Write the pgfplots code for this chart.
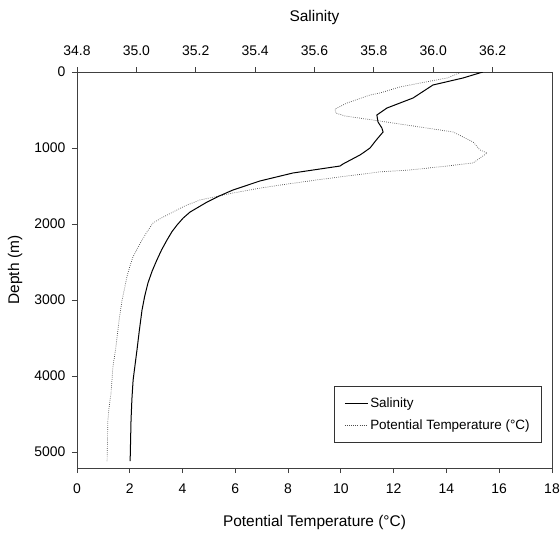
\documentclass[border=0pt]{standalone}
\usepackage{pgfplots}
\pgfplotsset{compat=1.18}
\usepackage{fontspec}
\setmainfont{Liberation Sans}

\pgfplotstableread{
S d
36.167 0
36.100 79
35.999 171
35.932 342
35.844 474
35.810 566
35.814 658
35.827 737
35.831 789
35.808 895
35.787 1000
35.763 1066
35.753 1092
35.696 1210
35.686 1237
35.527 1329
35.416 1434
35.325 1553
35.280 1630
35.238 1711
35.181 1842
35.158 1920
35.137 2013
35.120 2100
35.103 2211
35.085 2340
35.069 2474
35.053 2620
35.039 2776
35.028 2950
35.019 3132
35.010 3400
35.002 3658
34.989 4053
34.985 4300
34.982 4579
34.979 5118
}\salinity

\pgfplotstableread{
T d
14.55 5
14.02 79
13.00 145
12.24 197
11.48 276
11.10 303
10.23 408
9.78 487
9.81 540
10.16 579
11.22 632
13.00 724
14.25 789
15.01 921
15.27 1026
15.54 1066
15.27 1132
15.01 1197
14.02 1237
12.62 1289
11.48 1314
9.30 1410
8.20 1463
7.70 1487
6.93 1528
5.91 1592
4.66 1684
4.10 1760
3.64 1842
3.20 1920
2.88 1987
2.65 2105
2.40 2250
2.12 2434
2.00 2560
1.89 2697
1.80 2850
1.71 3000
1.60 3250
1.52 3487
1.44 3700
1.36 3882
1.29 4224
1.22 4400
1.17 4579
1.14 5118
}\temperature

\begin{document}
\begin{tikzpicture}
\useasboundingbox (-77bp,-68bp) rectangle (483bp,468bp);
\begin{axis}[
  at={(0,0)}, anchor=south west,
  scale only axis, width=475bp, height=396bp,
  xmin=0, xmax=18, ymin=0, ymax=5210, y dir=reverse,
  xtick={0,2,...,18}, ytick={0,1000,...,5000},
  xtick pos=bottom, ytick pos=left, tick align=outside,
  major tick length=5bp,
  axis line style={black!75, line width=0.8bp},
  every tick/.style={black!75, line width=0.8bp},
  /pgf/number format/assume math mode=true,
  /pgf/number format/1000 sep={},
  tick label style={font=\fontsize{14}{16}\selectfont},
  xticklabel style={yshift=-7bp},
  yticklabel style={xshift=-3bp},
  label style={font=\fontsize{15.5}{18}\selectfont},
  xlabel={Potential Temperature (°C)},
  ylabel={Depth (m)},
  xlabel style={at={(axis description cs:0.5,0)}, anchor=center, yshift=-55bp},
  ylabel style={at={(axis description cs:-0.1305,0.5)}, anchor=center},
]
\addplot[black!70, line width=0.7bp, dash pattern=on 0.7bp off 1.4bp] table[x=T, y=d] {\temperature};
\end{axis}
\begin{axis}[
  at={(0,0)}, anchor=south west,
  scale only axis, width=475bp, height=396bp,
  xmin=34.8, xmax=36.4, ymin=0, ymax=5210, y dir=reverse,
  axis line style={draw=none},
  xtick={34.8,35,35.2,35.4,35.6,35.8,36,36.2},
  ytick=\empty,
  xtick pos=top, xticklabel pos=top, tick align=outside,
  major tick length=5bp,
  every tick/.style={black!75, line width=0.8bp},
  /pgf/number format/assume math mode=true,
  xticklabel style={/pgf/number format/.cd, fixed, fixed zerofill, precision=1},
  tick label style={font=\fontsize{14}{16}\selectfont, yshift=8bp},
  label style={font=\fontsize{15.5}{18}\selectfont},
  xlabel={Salinity},
  xlabel style={at={(axis description cs:0.5,1)}, anchor=center, yshift=54bp},
  legend style={at={(axis description cs:0.979,0.063)}, anchor=south east,
    draw=black!80, line width=0.8bp, font=\fontsize{13.5}{15}\selectfont,
    inner xsep=10bp, inner ysep=10bp, row sep=6bp, cells={anchor=west}},
  legend image code/.code={\draw[#1, line width=0.8bp] (0bp,0bp) -- (23bp,0bp);},
]
\addplot[black, line width=1bp] table[x=S, y=d] {\salinity};
\addlegendentry{Salinity}
\addlegendimage{black!70, line width=0.7bp, dash pattern=on 0.7bp off 1.4bp}
\addlegendentry{Potential Temperature (°C)}
\end{axis}
\end{tikzpicture}
\end{document}
